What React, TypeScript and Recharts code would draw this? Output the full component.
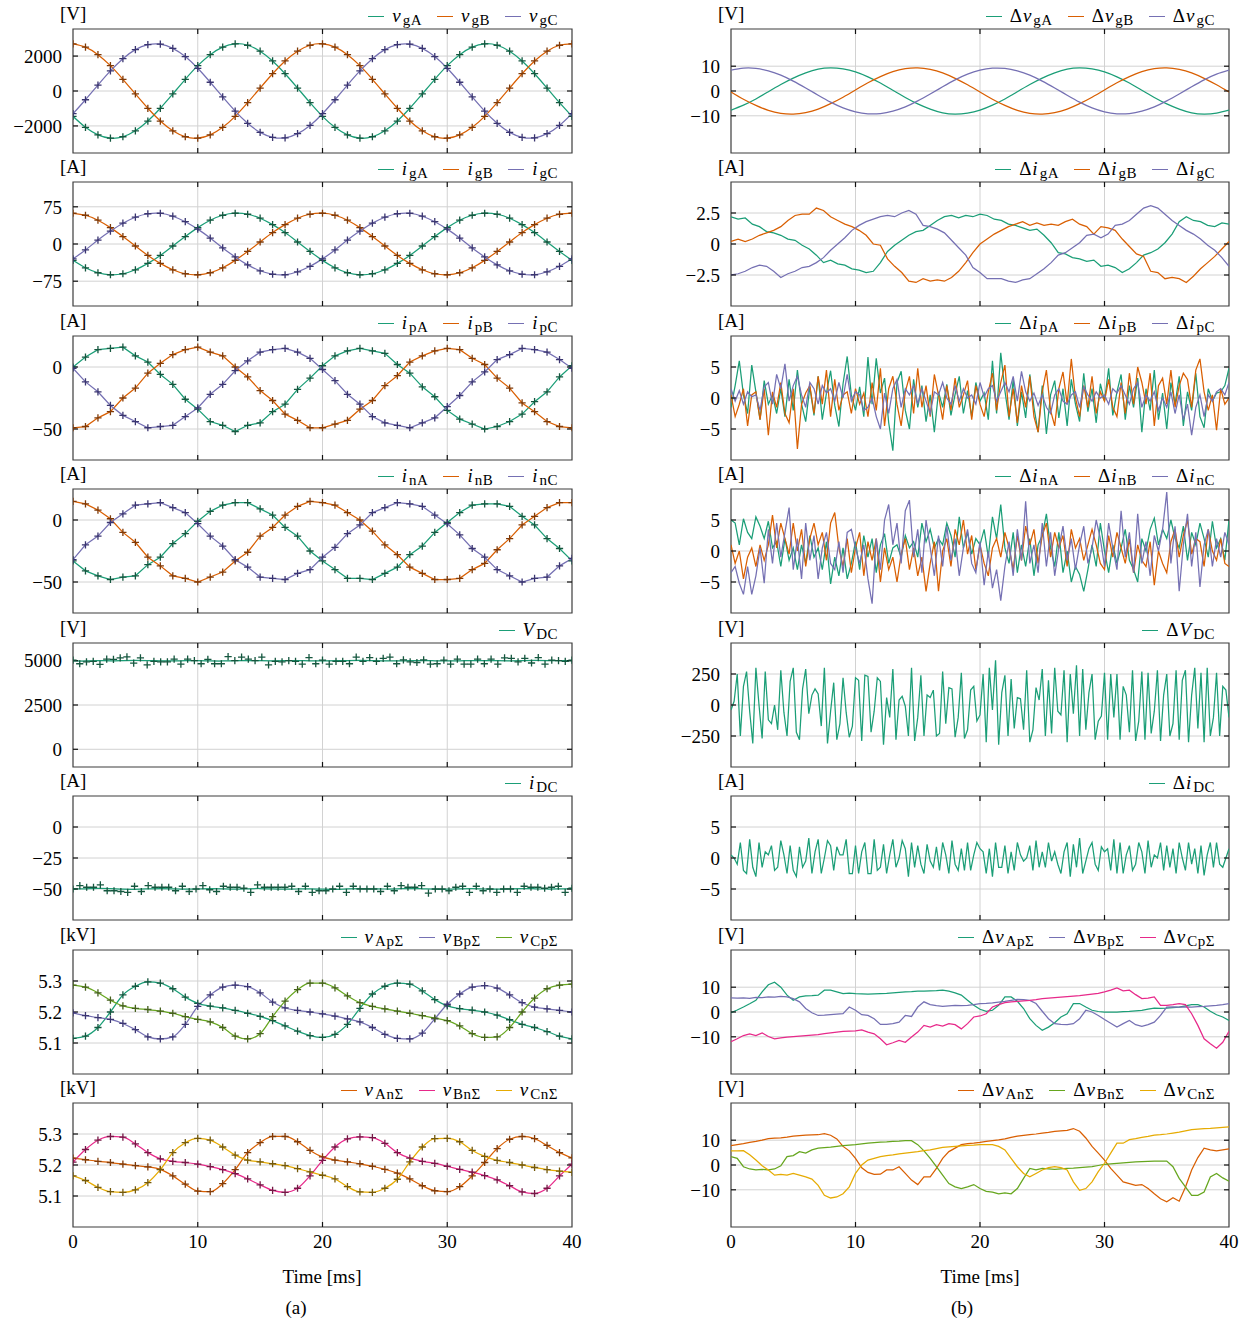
import React from 'react';
import {
  LineChart,
  Line,
  XAxis,
  YAxis,
  CartesianGrid,
  ReferenceLine,
  ReferenceArea,
} from 'recharts';

const FONT = "'Liberation Serif', 'Times New Roman', Times, serif";

const GREEN = '#1b9e77';
const ORANGE = '#d95f02';
const PURPLE = '#7570b3';
const PINK = '#e7298a';
const OLIVE = '#66a61e';
const YELLOW = '#e6ab02';

const M_GREEN = '#15573f';
const M_ORANGE = '#7f3a08';
const M_PURPLE = '#3a3570';
const M_OLIVE = '#45601c';
const M_PINK = '#741845';
const M_YELLOW = '#74590c';

// uniform time grid over 0..40 ms
const grid = (n: number) => Array.from({ length: n }, (_, i) => (i * 40) / (n - 1));

// ---------- (a) column, 1 ms samples ----------
const vgA = [-1450, -2080, -2510, -2700, -2620, -2280, -1720, -990, -170, 670, 1450, 2080, 2510, 2700, 2620, 2280, 1720, 990, 170, -670, -1450, -2080, -2510, -2700, -2620, -2280, -1720, -990, -170, 670, 1450, 2080, 2510, 2700, 2620, 2280, 1720, 990, 170, -670, -1450];
const vgB = [2700, 2510, 2080, 1450, 670, -170, -990, -1720, -2280, -2620, -2700, -2510, -2080, -1450, -670, 170, 990, 1720, 2280, 2620, 2700, 2510, 2080, 1450, 670, -170, -990, -1720, -2280, -2620, -2700, -2510, -2080, -1450, -670, 170, 990, 1720, 2280, 2620, 2700];
const vgC = [-1300, -500, 340, 1150, 1850, 2370, 2650, 2680, 2440, 1970, 1300, 500, -340, -1150, -1850, -2370, -2650, -2680, -2440, -1970, -1300, -500, 340, 1150, 1850, 2370, 2650, 2680, 2440, 1970, 1300, 500, -340, -1150, -1850, -2370, -2650, -2680, -2440, -1970, -1300];

const igA = [-33, -48, -58, -62, -60, -52, -39, -23, -4, 15, 33, 48, 58, 62, 60, 52, 39, 23, 4, -15, -33, -48, -58, -62, -60, -52, -39, -23, -4, 15, 33, 48, 58, 62, 60, 52, 39, 23, 4, -15, -33];
const igB = [62, 58, 48, 33, 15, -4, -23, -39, -52, -60, -62, -58, -48, -33, -15, 4, 23, 39, 52, 60, 62, 58, 48, 33, 15, -4, -23, -39, -52, -60, -62, -58, -48, -33, -15, 4, 23, 39, 52, 60, 62];
const igC = [-30, -12, 8, 26, 42, 54, 61, 62, 56, 45, 30, 12, -8, -26, -42, -54, -61, -62, -56, -45, -30, -12, 8, 26, 42, 54, 61, 62, 56, 45, 30, 12, -8, -26, -42, -54, -61, -62, -56, -45, -30];

const ipA = [0, 8, 14, 15, 16, 9, 4, -6, -14, -26, -34, -44, -47, -52, -47, -45, -36, -30, -18, -9, 1, 9, 13, 15, 13, 11, 2, -5, -16, -24, -35, -42, -46, -50, -48, -44, -38, -28, -20, -8, 1];
const ipB = [-49, -48, -41, -36, -25, -17, -5, 3, 10, 14, 16, 12, 9, 0, -8, -19, -27, -38, -43, -49, -49, -46, -43, -34, -27, -15, -7, 4, 9, 13, 15, 14, 7, 2, -9, -17, -29, -36, -44, -48, -49];
const ipC = [-1, -12, -20, -31, -39, -44, -49, -48, -47, -40, -33, -22, -14, -3, 5, 12, 14, 15, 12, 7, -2, -11, -22, -30, -40, -45, -47, -49, -45, -41, -32, -23, -12, -4, 6, 10, 15, 14, 12, 6, -1];

const inA = [-33, -41, -45, -48, -46, -45, -36, -30, -19, -11, -1, 7, 12, 14, 14, 9, 4, -6, -13, -25, -33, -40, -47, -47, -48, -43, -38, -28, -21, -10, -2, 6, 12, 13, 13, 11, 3, -4, -15, -23, -33];
const inB = [15, 13, 8, 1, -10, -18, -30, -37, -45, -47, -50, -46, -42, -33, -26, -13, -6, 4, 11, 15, 14, 12, 6, 0, -9, -20, -28, -38, -43, -48, -48, -47, -40, -35, -24, -15, -4, 3, 10, 14, 14];
const inC = [-32, -20, -13, -2, 5, 12, 13, 14, 10, 6, -3, -13, -21, -32, -38, -46, -47, -48, -43, -40, -30, -22, -11, -4, 6, 10, 14, 13, 11, 4, -3, -12, -23, -30, -40, -45, -50, -47, -46, -37, -31];

const vdc = [4990, 4985, 5005, 4995, 5010, 5020, 5010, 4995, 4990, 5000, 5005, 4990, 4985, 5005, 5010, 5000, 4995, 5005, 5010, 4990, 4995, 5000, 5010, 5015, 5005, 4990, 4995, 5000, 5010, 4995, 4985, 4995, 5005, 5010, 5000, 4995, 5005, 5015, 5010, 5000, 5005];
const vdcMarks = [5030, 4830, 4940, 4960, 4790, 5090, 5070, 5160, 5220, 4860, 5160, 4770, 4960, 4940, 4940, 5090, 4810, 5090, 5000, 4830, 5070, 4830, 4830, 5230, 5000, 5200, 5090, 5000, 5200, 4770, 4960, 4940, 5000, 4960, 4810, 5180, 4830, 5030, 4810, 4960, 4960, 4830, 5200, 4960, 5180, 4960, 5130, 5200, 4830, 5050, 4940, 4900, 5050, 4810, 4830, 5030, 4810, 5090, 4810, 4810, 5090, 4830, 5090, 4810, 5160, 5130, 4940, 5130, 4870, 5180, 4810, 5030, 5000, 4960, 5030];

const idc = [-50.0, -49.8, -49.5, -49.7, -50.2, -50.3, -49.9, -49.6, -49.8, -50.1, -50.0, -49.7, -49.9, -50.2, -49.8, -49.6, -49.9, -50.2, -50.0, -49.8, -50.1, -50.3, -49.9, -49.7, -49.8, -50.0, -49.9, -49.6, -49.8, -50.1, -50.2, -49.9, -49.7, -50.0, -50.1, -49.8, -49.6, -49.8, -50.0, -49.9, -49.8];
const idcMarks = [-50, -47.2, -48.6, -48.6, -46.6, -51.4, -51.4, -52, -52.8, -47.8, -52, -47.2, -48.6, -48.6, -48.6, -51.4, -47.8, -52, -50, -47.2, -50.6, -52, -47.8, -48.6, -48.6, -49.4, -52.8, -46.6, -48.6, -48.6, -48.6, -48.6, -47.8, -52, -47.8, -52.8, -51.4, -51.4, -50, -47.8, -52.8, -47.8, -50, -50, -50, -52, -47.8, -51.4, -47.2, -48.6, -48.6, -47.2, -53.4, -50, -50, -51.4, -48.6, -47.8, -52.8, -47.8, -51.4, -50, -52.8, -50, -50, -52.8, -47.8, -48.6, -48.6, -49.4, -48.6, -47.8, -52.8, -49.4];

const vApS = [5.115, 5.122, 5.15, 5.2, 5.255, 5.283, 5.297, 5.293, 5.275, 5.248, 5.228, 5.219, 5.213, 5.205, 5.196, 5.186, 5.172, 5.155, 5.138, 5.124, 5.118, 5.128, 5.16, 5.212, 5.258, 5.283, 5.293, 5.29, 5.268, 5.24, 5.22, 5.211, 5.206, 5.2, 5.19, 5.175, 5.16, 5.15, 5.137, 5.122, 5.113];
const vBpS = [5.197, 5.188, 5.182, 5.176, 5.163, 5.143, 5.12, 5.113, 5.12, 5.16, 5.218, 5.255, 5.28, 5.287, 5.282, 5.262, 5.232, 5.213, 5.205, 5.2, 5.194, 5.187, 5.178, 5.168, 5.15, 5.128, 5.115, 5.113, 5.132, 5.178, 5.225, 5.258, 5.28, 5.285, 5.277, 5.255, 5.23, 5.216, 5.21, 5.205, 5.2];
const vCpS = [5.287, 5.28, 5.262, 5.238, 5.22, 5.212, 5.208, 5.203, 5.196, 5.185, 5.176, 5.168, 5.15, 5.122, 5.113, 5.13, 5.185, 5.235, 5.272, 5.293, 5.293, 5.278, 5.252, 5.23, 5.218, 5.21, 5.203, 5.196, 5.188, 5.18, 5.172, 5.155, 5.13, 5.118, 5.12, 5.15, 5.2, 5.245, 5.275, 5.287, 5.29];

const vAnS = [5.222, 5.217, 5.212, 5.208, 5.203, 5.198, 5.194, 5.186, 5.165, 5.138, 5.116, 5.114, 5.14, 5.185, 5.24, 5.272, 5.292, 5.292, 5.275, 5.247, 5.226, 5.216, 5.21, 5.204, 5.196, 5.186, 5.174, 5.155, 5.133, 5.117, 5.114, 5.13, 5.165, 5.208, 5.253, 5.283, 5.292, 5.285, 5.263, 5.24, 5.223];
const vBnS = [5.209, 5.25, 5.28, 5.292, 5.29, 5.268, 5.24, 5.22, 5.212, 5.208, 5.203, 5.195, 5.185, 5.172, 5.155, 5.136, 5.118, 5.112, 5.125, 5.165, 5.215, 5.258, 5.284, 5.291, 5.288, 5.27, 5.24, 5.222, 5.212, 5.205, 5.196, 5.186, 5.177, 5.166, 5.152, 5.133, 5.113, 5.108, 5.125, 5.165, 5.203];
const vCnS = [5.165, 5.15, 5.128, 5.114, 5.112, 5.12, 5.143, 5.185, 5.24, 5.272, 5.286, 5.28, 5.258, 5.232, 5.216, 5.21, 5.204, 5.198, 5.188, 5.178, 5.167, 5.155, 5.13, 5.113, 5.112, 5.125, 5.154, 5.21, 5.258, 5.285, 5.286, 5.275, 5.247, 5.228, 5.215, 5.208, 5.2, 5.192, 5.185, 5.18, 5.176];

// ---------- (b) column ----------
const dvgA = [-7.7, -5.7, -3.2, -0.3, 2.6, 5.2, 7.3, 8.8, 9.3, 8.9, 7.7, 5.7, 3.2, 0.3, -2.6, -5.2, -7.3, -8.8, -9.3, -8.9, -7.7, -5.7, -3.2, -0.3, 2.6, 5.2, 7.3, 8.8, 9.3, 8.9, 7.7, 5.7, 3.2, 0.3, -2.6, -5.2, -7.3, -8.8, -9.3, -8.9, -7.7];
const dvgB = [-0.4, -3.3, -5.8, -7.8, -9.0, -9.3, -8.7, -7.3, -5.1, -2.5, 0.4, 3.3, 5.8, 7.8, 9.0, 9.3, 8.7, 7.3, 5.1, 2.5, -0.4, -3.3, -5.8, -7.8, -9.0, -9.3, -8.7, -7.3, -5.1, -2.5, 0.4, 3.3, 5.8, 7.8, 9.0, 9.3, 8.7, 7.3, 5.1, 2.5, -0.4];
const dvgC = [8.4, 9.2, 9.1, 8.1, 6.4, 4.0, 1.2, -1.7, -4.5, -6.8, -8.4, -9.2, -9.1, -8.1, -6.4, -4.0, -1.2, 1.7, 4.5, 6.8, 8.4, 9.2, 9.1, 8.1, 6.4, 4.0, 1.2, -1.7, -4.5, -6.8, -8.4, -9.2, -9.1, -8.1, -6.4, -4.0, -1.2, 1.7, 4.5, 6.8, 8.4];

const digA = [2.2, 2.0, 2.1, 1.6, 1.4, 1.0, 0.9, 0.7, 0.4, 0.3, -0.1, -0.4, -0.9, -1.5, -1.3, -1.6, -1.7, -2.0, -2.1, -2.3, -2.2, -1.5, -0.6, -0.1, 0.3, 0.7, 1.0, 1.1, 1.5, 1.9, 2.2, 2.3, 2.1, 2.3, 2.2, 2.4, 2.3, 2.0, 1.9, 1.6, 1.5, 1.3, 1.1, 1.2, 0.7, 0.1, -0.7, -0.8, -1.1, -1.2, -1.4, -1.3, -1.8, -1.7, -1.9, -2.3, -2.0, -1.5, -0.9, -0.7, -0.4, 0.1, 0.8, 1.8, 2.2, 1.9, 1.8, 1.5, 1.4, 1.7, 1.6];
const digB = [0.2, 0.4, 0.2, 0.4, 0.7, 0.9, 1.1, 1.4, 1.9, 2.3, 2.4, 2.4, 2.9, 2.7, 2.2, 1.9, 1.6, 1.4, 1.1, 0.7, 0.0, -0.1, -1.2, -1.8, -2.3, -3.0, -3.1, -2.8, -3.0, -2.9, -3.0, -2.7, -2.2, -1.5, -0.7, 0.0, 0.4, 0.8, 1.1, 1.4, 1.6, 1.8, 1.5, 1.7, 1.5, 1.6, 1.5, 1.8, 2.0, 1.6, 1.4, 0.8, 1.4, 1.3, 1.1, 0.4, -0.2, -0.8, -1.0, -2.2, -2.3, -2.8, -2.7, -2.8, -3.1, -2.6, -2.0, -1.5, -1.0, -0.4, 0.2];
const digC = [-2.5, -2.4, -2.2, -1.9, -1.7, -1.8, -2.2, -2.7, -2.4, -2.2, -1.9, -1.8, -1.5, -1.1, -0.5, 0.0, 0.5, 1.1, 1.5, 1.8, 2.0, 2.2, 2.3, 2.2, 2.5, 2.7, 2.4, 1.5, 1.4, 1.2, 0.9, 0.3, -0.3, -0.9, -1.9, -2.3, -2.8, -2.8, -2.8, -3.0, -3.1, -2.9, -2.8, -2.4, -2.0, -1.5, -0.9, -0.7, -0.3, 0.1, 0.7, 0.8, 0.5, 0.8, 1.5, 1.6, 1.9, 2.4, 2.9, 3.1, 2.9, 2.4, 1.9, 1.5, 1.1, 0.8, 0.4, -0.1, -0.5, -1.1, -1.8];

const dipA = [-1.5, 2.0, 6.0, 0.5, -2.5, 5.3, 1.0, -3.5, 2.8, -1.0, 0.5, -2.5, 1.5, -3.0, 3.0, -2.0, 4.5, -1.0, -3.8, 1.8, -2.8, 3.5, -3.5, 0.8, 4.4, -1.2, -4.6, 2.3, 6.7, 0.5, -2.0, 1.8, -3.0, 6.6, -1.0, 6.4, 0.8, 3.2, -4.0, -8.5, 2.5, 4.3, -2.0, -5.0, 3.0, -1.5, 2.0, -3.8, 0.5, -5.5, 1.0, -1.5, 2.2, -2.8, 0.6, 3.5, -2.5, 1.2, -3.0, 2.5, -0.5, 0.8, -3.5, 6.0, -2.5, 7.3, 1.2, -3.5, 3.0, -4.5, 1.0, -3.2, 3.8, -1.5, -5.5, 2.0, -5.8, 0.5, 2.8, -3.2, 1.5, -4.5, 3.0, -1.0, -3.8, 4.0, -2.2, 1.5, -4.0, 2.3, -0.5, 4.8, -2.8, 1.0, 3.8, -3.5, 2.0, -1.5, 3.2, -5.5, 1.5, -2.0, 4.5, -3.5, 0.8, -5.0, 2.5, -1.0, 3.5, -4.5, 1.0, -2.0, 4.0, -3.0, -4.8, 1.5, -0.5, 0.8, 1.0, 2.0, 4.8];
const dipB = [0.5, -3.0, -1.0, 1.5, -4.5, 0.5, 1.0, -3.5, 1.5, -6.0, 1.0, -1.5, 2.5, -2.5, -4.0, 1.5, -8.2, -1.0, 0.8, 2.0, -2.5, 3.5, -1.0, 4.5, -3.0, 3.0, -2.0, 0.5, 1.0, -2.5, 1.5, -1.0, 0.8, -3.0, 2.5, -2.0, 4.8, -4.5, 1.5, 3.5, -1.0, -4.5, 1.0, 3.5, -2.5, 4.8, -1.5, 2.0, -3.0, 3.8, 0.5, -3.5, 2.0, -2.0, 3.2, -1.5, 0.5, 2.8, -3.5, 2.0, -1.0, -3.0, 1.0, 4.0, -2.0, 2.5, 5.3, -3.0, 1.5, -4.0, 2.0, -1.5, 3.5, -3.0, -5.5, 1.0, 4.5, -2.0, -4.5, 1.5, 4.2, -1.0, 6.3, 0.0, -3.0, 2.0, -1.5, 3.5, -2.5, 1.0, -0.5, 3.0, -1.5, -3.0, 2.5, -2.5, 4.0, -1.0, 5.0, 2.5, -1.0, 4.0, -4.5, 2.0, 3.2, -1.0, 4.5, -1.5, 2.0, 4.0, 3.0, -1.5, 4.5, 6.3, 1.0, -2.0, 0.5, -5.2, 1.5, -1.0, 0.0];
const dipC = [1.5, -0.5, 1.2, -1.0, 1.0, 0.2, 0.5, -2.0, 1.8, 2.5, -1.0, 3.8, 1.5, 5.5, -0.5, 2.0, 3.5, 0.5, -1.5, 2.5, 1.5, -1.0, 2.0, 0.8, 1.5, -0.5, 2.5, 0.0, 3.8, -0.5, 1.0, 0.5, -2.0, -1.5, 0.0, -3.0, -5.0, 0.8, -2.5, 1.5, 3.0, -1.5, 1.5, 0.5, 2.0, -1.0, 1.5, -0.5, -2.5, 1.0, 0.5, 2.5, 0.0, -1.0, 2.0, -0.5, 1.5, 0.0, 0.5, -1.0, 2.5, 0.2, 1.5, 2.0, -0.5, 1.0, 2.5, 1.0, 3.5, -0.5, 4.3, 1.0, -0.5, 0.8, -1.2, 0.5, -1.5, -2.5, 0.5, 1.5, -0.5, -1.0, 0.5, 1.0, -1.5, 1.8, 0.5, -0.5, 1.0, 0.0, 0.5, -1.0, 1.5, 0.8, 2.0, 0.5, -1.0, 1.5, 2.5, -1.5, 0.5, -0.5, 1.0, -2.0, 0.0, -1.5, 1.0, -2.5, 0.5, -3.5, -1.0, -6.0, -1.5, 0.5, -3.0, 0.5, -0.5, 1.0, 1.5, 0.5, 2.5];

const dinA = [5.0, 4.5, 1.0, 5.2, 3.0, 2.0, 5.5, 4.0, 2.0, 4.8, 0.5, 1.5, -2.5, 2.0, -1.5, 0.5, -3.0, 1.0, -2.0, 2.5, -1.0, 0.5, -3.0, 1.5, -5.3, -1.0, -4.0, 0.5, -4.5, -2.0, 1.5, -3.0, 2.5, -1.0, 2.0, -3.5, 1.0, 2.8, -2.0, 0.5, 1.0, -1.0, 2.5, 0.5, 1.5, -1.0, 4.5, 1.5, 3.5, 0.5, 2.0, 1.0, 4.5, 2.5, -1.0, 5.5, 0.5, 3.0, -0.5, 2.0, 1.0, 3.5, -1.0, 5.5, 2.0, 7.5, 0.5, -2.0, 3.0, -3.5, 1.0, -2.5, 2.0, -4.0, 1.0, 2.5, 6.0, 0.5, -2.5, 3.0, -3.5, 0.0, -5.0, -2.5, -3.8, -6.5, -3.0, 1.0, -2.5, 4.5, 0.0, -3.5, 1.0, -2.0, 0.5, 3.5, -1.5, -3.0, -5.0, 2.0, 0.0, 3.5, 5.3, 1.0, 3.5, 2.0, 5.0, 2.0, 0.5, 4.0, -1.5, 3.0, 1.0, 4.5, 2.0, -1.0, 4.8, 0.5, 2.0, -1.5, 5.0];
const dinB = [1.0, -2.0, 0.0, -4.5, -1.0, 0.5, -2.5, 1.0, -1.5, 1.0, 5.8, 0.5, 4.5, 2.0, -0.5, 4.5, 0.0, 3.5, -2.5, 2.0, 4.5, 1.0, 3.0, -1.5, 4.5, 6.2, 0.5, -2.5, 2.0, -3.5, 0.5, 3.0, -4.0, 1.5, -1.5, 2.0, -5.0, 0.5, -3.0, -1.0, -5.0, -0.5, 2.0, -3.0, 0.5, -4.0, -1.0, -6.5, -2.0, 1.5, -6.5, 0.0, 2.0, -2.5, 3.5, 1.0, 5.0, -0.5, 2.5, -3.0, 1.0, -2.0, -4.0, 0.5, 2.0, -1.0, 3.0, 0.5, -3.0, 2.5, -1.5, 4.0, 1.0, 3.5, -2.0, 2.5, 4.5, -1.0, 3.0, 0.5, 2.5, -2.5, 3.5, 0.5, 2.0, -1.5, 1.0, 3.5, 1.0, -2.0, -3.0, 2.5, -1.0, 3.0, 0.5, -2.0, 2.0, -3.5, 1.0, -1.5, -2.5, 1.5, -5.5, 0.0, -2.0, -3.5, 1.5, 3.5, -1.0, 2.5, 5.0, -0.5, 2.0, 1.5, -2.5, 3.5, 0.0, -1.5, 2.0, -2.0, -2.5];
const dinC = [-3.5, -2.5, -5.2, -7.0, -2.5, -7.0, -4.0, 0.5, -5.2, 3.5, -2.0, 4.5, -1.0, 3.0, 7.0, -3.0, 2.0, -4.5, 4.5, -1.5, 2.5, -4.5, 0.5, 3.0, -2.0, -3.0, 1.5, -3.5, 3.0, 3.5, 0.5, -2.0, 1.0, -4.5, -8.5, 2.0, -3.0, 5.0, 7.5, 1.0, 4.5, -2.0, 6.5, 8.2, -1.0, 3.5, -3.5, 5.0, 0.5, -4.0, 2.5, -2.5, 4.0, -1.5, 2.0, -4.0, 0.5, 3.5, -2.0, -3.5, 1.5, -5.5, 0.0, -6.0, -3.0, -8.0, -2.5, 1.5, -4.0, 3.5, -1.5, 8.0, -2.0, 1.0, -3.5, 4.5, -2.5, 3.0, -4.0, 0.5, 4.0, -1.5, 2.0, -3.0, 1.0, 4.0, -2.0, 0.5, 5.0, 2.0, -2.5, 4.5, 0.5, -3.0, 6.5, -1.0, 3.0, -3.5, 6.0, -2.0, 1.5, -4.0, 2.5, 0.0, 3.5, 9.5, -2.0, 4.0, -6.5, 1.0, 6.0, -2.5, 3.0, -5.8, 1.0, 3.5, -2.5, 2.0, -1.0, 3.0, 1.0];

const dVdc = [-40, 30, 250, -250, 150, 270, -50, -310, 300, 0, -270, 270, -120, -150, 0, -200, 280, -60, -250, 190, 300, -220, -280, 130, 290, -70, 80, 130, 90, -170, 300, -310, -50, 180, -280, -150, 220, -60, -260, -170, 220, 200, -290, 240, 230, -220, -50, 220, 190, -320, 60, -100, 290, -280, 40, 70, -10, -250, 300, -290, -100, 240, -250, 80, 60, 120, -250, -230, 270, -150, 140, 130, -260, -100, 260, -270, -200, 120, 150, -130, -80, 250, -300, 300, -40, 360, -320, 100, 240, -250, 210, -190, 60, 50, -200, 280, -300, -200, 140, 40, 290, -250, 200, -230, 300, -50, -80, 280, -300, 250, -70, 320, -250, 290, -200, 100, 250, -280, -130, -90, 260, -280, 250, -100, 250, -280, 150, 80, -220, 280, -290, -130, 270, -280, 260, -230, -50, 280, -290, 80, 250, -250, -150, 280, -280, 200, 280, -300, 80, 300, -190, 260, -300, 300, -250, -100, 260, -250, 150, 120, -100];
const dIdc = [0.5, 0.0, -1.0, 2.5, -2.0, -2.5, 3.0, -1.5, -3.0, 2.5, -1.5, 1.0, 0.5, 2.0, -2.0, -1.5, 2.8, 0.5, -2.5, 2.0, -2.0, -3.0, 1.8, -1.5, -0.5, 3.2, -2.5, 1.0, 3.0, -2.5, 0.0, 2.8, 2.0, -2.0, 1.8, 0.5, 0.5, 3.0, -2.5, -2.5, 2.0, -2.5, 1.0, 2.5, -2.5, -2.5, 3.0, -2.0, -1.5, 2.2, -2.5, 0.5, 3.0, -1.5, 0.0, 2.8, 1.5, -3.0, 2.5, -1.5, 2.0, -1.0, -2.5, 2.2, -0.5, -1.5, 1.8, -2.0, 2.5, 0.5, -2.5, 2.8, -1.0, -2.0, 1.5, -2.0, 2.5, -2.0, 0.5, 2.5, 1.5, 1.0, -2.5, 1.5, -3.0, 2.5, -1.5, -1.5, 2.0, -2.5, 1.0, -2.0, 2.5, 0.5, -0.5, 0.0, 2.0, -2.0, 2.8, -1.5, 1.0, -1.5, 2.5, -0.5, 1.0, -1.0, -2.5, 1.0, 2.5, -3.0, 2.2, -1.5, 3.2, -2.5, -0.5, 1.5, 2.5, -1.0, -2.0, 1.8, 1.0, 1.5, -2.0, 3.0, -2.5, 2.5, -2.5, 0.5, 2.0, -2.0, -1.0, 2.5, 1.0, -2.5, 2.8, -1.5, 0.5, 0.0, 2.5, -2.0, 2.0, -1.5, 1.5, -2.5, 2.5, 0.0, -2.0, 2.5, -1.0, 1.5, -2.5, 2.0, -2.8, 0.5, 2.5, -1.5, 2.5, -1.0, -1.5, 0.0, 1.5];

const dvApS = [-0.3, 0.8, 2.0, 3.3, 4.7, 8.1, 11.0, 12.0, 10.0, 6.8, 4.7, 6.1, 6.5, 6.6, 6.8, 8.8, 8.8, 8.1, 7.4, 7.6, 7.4, 7.3, 7.2, 7.3, 7.4, 7.5, 7.7, 7.9, 8.1, 8.2, 8.4, 8.4, 8.5, 8.6, 8.8, 8.4, 7.7, 6.8, 4.7, 2.7, 1.1, 0.3, 0.7, 2.7, 6.1, 6.1, 4.3, 1.4, -2.7, -5.4, -7.4, -6.1, -4.3, -2.0, -0.7, 3.4, 3.4, 2.0, 0.7, 0.2, 0.0, 0.0, 0.0, 0.2, 0.3, 0.5, 0.7, 1.2, 1.6, 1.5, 1.6, 1.8, 2.0, 2.5, 3.0, 3.0, 2.0, 0.3, -1.1, -2.0, -3.4];
const dvBpS = [5.7, 5.6, 5.7, 5.5, 5.9, 5.8, 6.1, 6.0, 6.3, 6.1, 5.4, 4.1, 1.4, -0.3, -1.4, -1.3, -1.1, -0.9, -0.7, 2.0, 0.7, -1.1, -1.4, -2.7, -5.0, -5.0, -4.7, -4.1, -1.4, -1.8, 2.0, 4.1, 3.0, 2.6, 2.3, 2.5, 2.7, 2.6, 2.7, 3.0, 3.4, 3.5, 3.7, 4.0, 4.3, 4.7, 5.1, 5.0, 4.7, 3.4, 0.3, -2.7, -4.7, -5.0, -5.1, -4.7, -2.7, 0.7, 0.0, -1.4, -3.0, -4.5, -6.1, -4.7, -3.4, -5.1, -5.8, -5.1, -4.1, -1.4, 2.0, 2.1, 2.0, 2.1, 2.0, 2.2, 2.3, 2.5, 2.7, 3.0, 3.4];
const dvCpS = [-12.0, -10.8, -9.5, -8.8, -9.5, -8.4, -9.9, -10.8, -10.4, -10.1, -9.9, -9.7, -9.5, -9.3, -9.1, -8.7, -8.4, -8.1, -7.8, -7.7, -7.6, -7.2, -8.1, -8.8, -10.8, -13.2, -12.4, -11.5, -12.2, -10.1, -8.1, -5.4, -6.1, -5.1, -5.7, -4.7, -5.1, -6.8, -4.7, -2.0, -1.6, -0.7, 2.0, 3.0, 3.8, 4.1, 4.3, 4.5, 4.7, 5.0, 5.4, 5.6, 5.8, 6.0, 6.2, 6.4, 6.6, 6.9, 7.2, 7.5, 8.1, 8.8, 9.7, 8.5, 8.8, 7.0, 5.4, 5.6, 6.1, 2.7, 2.7, 3.0, 3.4, 3.0, -0.7, -5.4, -10.8, -12.8, -14.6, -12.2, -7.8];

const dvAnS = [7.8, 8.2, 8.6, 9.1, 9.5, 10.0, 10.6, 10.8, 10.9, 11.2, 11.6, 11.8, 12.0, 12.1, 12.2, 12.6, 12.0, 10.5, 7.5, 5.7, 2.7, -1.1, -3.0, -3.8, -3.7, -2.0, -2.0, -0.7, -3.4, -6.1, -7.9, -4.8, -4.8, -1.4, 2.7, 5.4, 6.8, 8.2, 8.6, 8.8, 9.1, 9.5, 9.8, 10.1, 10.5, 11.1, 11.6, 11.9, 12.2, 12.5, 12.9, 13.2, 13.6, 13.8, 14.0, 14.7, 13.6, 10.9, 7.5, 4.8, 2.0, -1.4, -4.1, -6.8, -7.5, -8.2, -7.9, -9.5, -11.6, -13.6, -14.8, -13.2, -14.6, -9.0, -2.0, 3.0, 6.8, 6.1, 5.7, 6.1, 6.5];
const dvBnS = [3.4, 2.7, -0.7, -1.6, -2.0, -1.8, -2.0, -1.6, -0.3, 3.4, 3.8, 5.4, 4.8, 6.1, 6.8, 7.0, 7.2, 7.5, 7.8, 8.0, 8.2, 8.5, 8.8, 9.0, 9.2, 9.3, 9.5, 9.6, 9.8, 9.8, 8.2, 5.7, 2.7, -0.7, -4.1, -7.5, -8.8, -9.5, -8.8, -7.9, -9.5, -10.6, -10.9, -11.6, -11.2, -11.6, -9.5, -5.4, -1.4, -2.0, -1.4, -1.6, -1.8, -1.6, -1.4, -1.3, -1.1, -0.9, -0.7, -0.2, 0.3, 0.5, 0.7, 0.9, 1.1, 1.3, 1.4, 1.5, 1.6, 1.6, 1.6, -0.7, -5.4, -8.8, -12.2, -12.2, -10.9, -4.8, -3.4, -5.2, -6.5];
const dvCnS = [5.7, 5.7, 5.8, 4.1, 2.0, -0.3, -2.0, -4.1, -3.8, -4.1, -3.4, -4.1, -4.8, -5.7, -8.2, -12.2, -13.3, -12.9, -11.6, -8.8, -3.4, 0.0, 2.0, 2.7, 3.4, 3.8, 4.1, 4.5, 4.8, 5.1, 5.4, 5.8, 6.1, 6.6, 7.1, 7.3, 7.5, 7.7, 7.9, 8.0, 8.2, 8.2, 8.2, 7.5, 6.1, 2.7, -0.7, -3.4, -4.8, -3.4, -2.0, -1.1, -0.7, -1.1, -2.0, -6.8, -10.2, -9.5, -6.8, -2.7, 0.7, 4.8, 8.8, 8.8, 10.2, 10.6, 11.1, 11.5, 12.0, 12.2, 12.5, 12.9, 13.3, 13.8, 14.3, 14.5, 14.7, 14.8, 15.0, 15.2, 15.4];

const X_TICKS = [0, 10, 20, 30, 40];
const X_GRID = [10, 20, 30];
const ROW_TOPS = [29, 182, 336, 489, 643, 796, 950, 1103];
const PLOT_H = 124;

type Lbl = { d?: boolean; s: string; sub: string };
type Ser = { key: string; values: number[]; color: string; mark?: string; label: Lbl };
type Cfg = {
  unit: string;
  series: Ser[];
  domain: [number, number];
  ticks: number[];
  curve: 'linear' | 'natural' | 'monotone';
  marks?: { values: number[]; color: string };
};

const fmt = (v: number) => (v < 0 ? `\u2212${Math.abs(v)}` : `${v}`);

const L = (s: string, sub: string, d = false): Lbl => ({ s, sub, d });

const LEFT: Cfg[] = [
  {
    unit: '[V]', domain: [-3550, 3550], ticks: [-2000, 0, 2000], curve: 'natural',
    series: [
      { key: 'a', values: vgA, color: GREEN, mark: M_GREEN, label: L('v', 'gA') },
      { key: 'b', values: vgB, color: ORANGE, mark: M_ORANGE, label: L('v', 'gB') },
      { key: 'c', values: vgC, color: PURPLE, mark: M_PURPLE, label: L('v', 'gC') },
    ],
  },
  {
    unit: '[A]', domain: [-125, 125], ticks: [-75, 0, 75], curve: 'natural',
    series: [
      { key: 'a', values: igA, color: GREEN, mark: M_GREEN, label: L('i', 'gA') },
      { key: 'b', values: igB, color: ORANGE, mark: M_ORANGE, label: L('i', 'gB') },
      { key: 'c', values: igC, color: PURPLE, mark: M_PURPLE, label: L('i', 'gC') },
    ],
  },
  {
    unit: '[A]', domain: [-75, 25], ticks: [-50, 0], curve: 'linear',
    series: [
      { key: 'a', values: ipA, color: GREEN, mark: M_GREEN, label: L('i', 'pA') },
      { key: 'b', values: ipB, color: ORANGE, mark: M_ORANGE, label: L('i', 'pB') },
      { key: 'c', values: ipC, color: PURPLE, mark: M_PURPLE, label: L('i', 'pC') },
    ],
  },
  {
    unit: '[A]', domain: [-75, 25], ticks: [-50, 0], curve: 'linear',
    series: [
      { key: 'a', values: inA, color: GREEN, mark: M_GREEN, label: L('i', 'nA') },
      { key: 'b', values: inB, color: ORANGE, mark: M_ORANGE, label: L('i', 'nB') },
      { key: 'c', values: inC, color: PURPLE, mark: M_PURPLE, label: L('i', 'nC') },
    ],
  },
  {
    unit: '[V]', domain: [-1000, 6000], ticks: [0, 2500, 5000], curve: 'natural',
    series: [{ key: 'a', values: vdc, color: GREEN, label: L('V', 'DC') }],
    marks: { values: vdcMarks, color: M_GREEN },
  },
  {
    unit: '[A]', domain: [-75, 25], ticks: [-50, -25, 0], curve: 'natural',
    series: [{ key: 'a', values: idc, color: GREEN, label: L('i', 'DC') }],
    marks: { values: idcMarks, color: M_GREEN },
  },
  {
    unit: '[kV]', domain: [5.0, 5.4], ticks: [5.1, 5.2, 5.3], curve: 'monotone',
    series: [
      { key: 'a', values: vApS, color: GREEN, mark: M_GREEN, label: L('v', 'ApΣ') },
      { key: 'b', values: vBpS, color: PURPLE, mark: M_PURPLE, label: L('v', 'BpΣ') },
      { key: 'c', values: vCpS, color: OLIVE, mark: M_OLIVE, label: L('v', 'CpΣ') },
    ],
  },
  {
    unit: '[kV]', domain: [5.0, 5.4], ticks: [5.1, 5.2, 5.3], curve: 'monotone',
    series: [
      { key: 'a', values: vAnS, color: ORANGE, mark: M_ORANGE, label: L('v', 'AnΣ') },
      { key: 'b', values: vBnS, color: PINK, mark: M_PINK, label: L('v', 'BnΣ') },
      { key: 'c', values: vCnS, color: YELLOW, mark: M_YELLOW, label: L('v', 'CnΣ') },
    ],
  },
];

const RIGHT: Cfg[] = [
  {
    unit: '[V]', domain: [-25, 25], ticks: [-10, 0, 10], curve: 'natural',
    series: [
      { key: 'a', values: dvgA, color: GREEN, label: L('v', 'gA', true) },
      { key: 'b', values: dvgB, color: ORANGE, label: L('v', 'gB', true) },
      { key: 'c', values: dvgC, color: PURPLE, label: L('v', 'gC', true) },
    ],
  },
  {
    unit: '[A]', domain: [-5, 5], ticks: [-2.5, 0, 2.5], curve: 'linear',
    series: [
      { key: 'a', values: digA, color: GREEN, label: L('i', 'gA', true) },
      { key: 'b', values: digB, color: ORANGE, label: L('i', 'gB', true) },
      { key: 'c', values: digC, color: PURPLE, label: L('i', 'gC', true) },
    ],
  },
  {
    unit: '[A]', domain: [-10, 10], ticks: [-5, 0, 5], curve: 'linear',
    series: [
      { key: 'a', values: dipA, color: GREEN, label: L('i', 'pA', true) },
      { key: 'b', values: dipB, color: ORANGE, label: L('i', 'pB', true) },
      { key: 'c', values: dipC, color: PURPLE, label: L('i', 'pC', true) },
    ],
  },
  {
    unit: '[A]', domain: [-10, 10], ticks: [-5, 0, 5], curve: 'linear',
    series: [
      { key: 'a', values: dinA, color: GREEN, label: L('i', 'nA', true) },
      { key: 'b', values: dinB, color: ORANGE, label: L('i', 'nB', true) },
      { key: 'c', values: dinC, color: PURPLE, label: L('i', 'nC', true) },
    ],
  },
  {
    unit: '[V]', domain: [-500, 500], ticks: [-250, 0, 250], curve: 'linear',
    series: [{ key: 'a', values: dVdc, color: GREEN, label: L('V', 'DC', true) }],
  },
  {
    unit: '[A]', domain: [-10, 10], ticks: [-5, 0, 5], curve: 'linear',
    series: [{ key: 'a', values: dIdc, color: GREEN, label: L('i', 'DC', true) }],
  },
  {
    unit: '[V]', domain: [-25, 25], ticks: [-10, 0, 10], curve: 'linear',
    series: [
      { key: 'a', values: dvApS, color: GREEN, label: L('v', 'ApΣ', true) },
      { key: 'b', values: dvBpS, color: PURPLE, label: L('v', 'BpΣ', true) },
      { key: 'c', values: dvCpS, color: PINK, label: L('v', 'CpΣ', true) },
    ],
  },
  {
    unit: '[V]', domain: [-25, 25], ticks: [-10, 0, 10], curve: 'linear',
    series: [
      { key: 'a', values: dvAnS, color: ORANGE, label: L('v', 'AnΣ', true) },
      { key: 'b', values: dvBnS, color: OLIVE, label: L('v', 'BnΣ', true) },
      { key: 'c', values: dvCnS, color: YELLOW, label: L('v', 'CnΣ', true) },
    ],
  },
];

function toRows(series: Ser[]) {
  const t = grid(series[0].values.length);
  return t.map((x, i) => {
    const r: Record<string, number> = { t: x };
    series.forEach((s) => {
      r[s.key] = s.values[i];
    });
    return r;
  });
}

const plus = (color: string) => (p: any) => {
  const { cx, cy, index } = p;
  if (cx == null || cy == null) return <g key={`m${index}`} />;
  return (
    <path
      key={`m${index}`}
      d={`M${cx - 3.6},${cy}H${cx + 3.6}M${cx},${cy - 3.6}V${cy + 3.6}`}
      stroke={color}
      strokeWidth={1.3}
      fill="none"
    />
  );
};

function Legend({ series, right, top }: { series: Ser[]; right: number; top: number }) {
  return (
    <div
      style={{
        position: 'absolute',
        right,
        top,
        display: 'flex',
        alignItems: 'center',
        fontFamily: FONT,
        fontSize: 19,
        lineHeight: '20px',
        whiteSpace: 'nowrap',
        color: '#000',
      }}
    >
      {series.map((s, i) => (
        <span key={s.key} style={{ display: 'inline-flex', alignItems: 'center', marginLeft: i ? 15 : 0 }}>
          <span
            style={{
              display: 'inline-block',
              width: 16,
              height: 0,
              borderTop: `1.5px solid ${s.color}`,
              marginRight: 8,
            }}
          />
          {s.label.d && <span style={{ marginRight: 1 }}>Δ</span>}
          <span style={{ fontStyle: 'italic' }}>{s.label.s}</span>
          <span style={{ fontSize: 15, position: 'relative', top: 4, marginLeft: 2, letterSpacing: 0.5 }}>
            {s.label.sub}
          </span>
        </span>
      ))}
    </div>
  );
}

function Panel({ cfg, left, top, width, bottom }: { cfg: Cfg; left: number; top: number; width: number; bottom: boolean }) {
  const ML = 60;
  const MT = 8;
  const MR = 12;
  const MB = bottom ? 36 : 8;
  const W = ML + width + MR;
  const H = MT + PLOT_H + MB;
  const data = toRows(cfg.series);
  const [y0, y1] = cfg.domain;
  const ty = ((y1 - y0) * 5) / PLOT_H;
  const tx = (40 * 5) / width;
  const markRows = cfg.marks
    ? grid(cfg.marks.values.length).map((x, i) => ({ t: x, m: cfg.marks!.values[i] }))
    : null;
  const tickStyle = { fill: '#000', fontSize: 19, fontFamily: FONT };

  return (
    <div style={{ position: 'absolute', left: left - ML, top: top - MT, width: W, height: H }}>
      <LineChart width={W} height={H} data={data} margin={{ top: MT, right: MR, left: 0, bottom: bottom ? 0 : MB }}>
        <CartesianGrid horizontalValues={cfg.ticks} verticalValues={X_GRID} stroke="#d2d2d2" strokeWidth={1} />
        <XAxis
          type="number"
          dataKey="t"
          domain={[0, 40]}
          ticks={X_TICKS}
          interval={0}
          allowDataOverflow
          hide={!bottom}
          height={36}
          tickLine={false}
          axisLine={false}
          tickSize={0}
          tickMargin={8}
          tick={tickStyle}
        />
        <YAxis
          type="number"
          domain={cfg.domain}
          ticks={cfg.ticks}
          interval={0}
          allowDataOverflow
          width={ML}
          tickLine={false}
          axisLine={false}
          tickSize={0}
          tickMargin={11}
          tick={tickStyle}
          tickFormatter={fmt}
        />
        {cfg.series.map((s) => (
          <Line
            key={s.key}
            dataKey={s.key}
            type={cfg.curve}
            stroke={s.color}
            strokeWidth={1.25}
            dot={false}
            activeDot={false}
            isAnimationActive={false}
          />
        ))}
        {cfg.series
          .filter((s) => s.mark)
          .map((s) => (
            <Line
              key={`mk${s.key}`}
              dataKey={s.key}
              stroke="none"
              dot={plus(s.mark!)}
              activeDot={false}
              isAnimationActive={false}
            />
          ))}
        {markRows && (
          <Line
            data={markRows}
            dataKey="m"
            stroke="none"
            dot={plus(cfg.marks!.color)}
            activeDot={false}
            isAnimationActive={false}
          />
        )}
        <ReferenceArea x1={0} x2={40} y1={y0} y2={y1} fill="none" fillOpacity={0} stroke="#3c3c3c" strokeWidth={1.2} />
        {cfg.ticks.flatMap((v) => [
          <ReferenceLine key={`yl${v}`} segment={[{ x: 0, y: v }, { x: tx, y: v }]} stroke="#111" strokeWidth={1.2} />,
          <ReferenceLine key={`yr${v}`} segment={[{ x: 40 - tx, y: v }, { x: 40, y: v }]} stroke="#111" strokeWidth={1.2} />,
        ])}
        {X_GRID.flatMap((v) => [
          <ReferenceLine key={`xb${v}`} segment={[{ x: v, y: y0 }, { x: v, y: y0 + ty }]} stroke="#111" strokeWidth={1.2} />,
          <ReferenceLine key={`xt${v}`} segment={[{ x: v, y: y1 - ty }, { x: v, y: y1 }]} stroke="#111" strokeWidth={1.2} />,
        ])}
      </LineChart>
      <Legend series={cfg.series} right={MR + 14} top={MT - 23} />
      <div
        style={{
          position: 'absolute',
          left: ML - 13,
          top: MT - 25,
          fontFamily: FONT,
          fontSize: 19,
          lineHeight: '20px',
          color: '#000',
        }}
      >
        {cfg.unit}
      </div>
    </div>
  );
}

const textStyle: React.CSSProperties = {
  position: 'absolute',
  width: 200,
  textAlign: 'center',
  fontFamily: FONT,
  fontSize: 19,
  lineHeight: '24px',
  color: '#000',
};

export default function App() {
  return (
    <div style={{ position: 'absolute', left: 0, top: 0, width: 1246, height: 1322, background: '#fff', overflow: 'hidden' }}>
      {LEFT.map((cfg, i) => (
        <Panel key={`l${i}`} cfg={cfg} left={73} top={ROW_TOPS[i]} width={499} bottom={i === LEFT.length - 1} />
      ))}
      {RIGHT.map((cfg, i) => (
        <Panel key={`r${i}`} cfg={cfg} left={731} top={ROW_TOPS[i]} width={498} bottom={i === RIGHT.length - 1} />
      ))}
      <div style={{ ...textStyle, left: 222, top: 1265 }}>Time [ms]</div>
      <div style={{ ...textStyle, left: 880, top: 1265 }}>Time [ms]</div>
      <div style={{ ...textStyle, left: 196, top: 1296 }}>(a)</div>
      <div style={{ ...textStyle, left: 862, top: 1296 }}>(b)</div>
    </div>
  );
}
